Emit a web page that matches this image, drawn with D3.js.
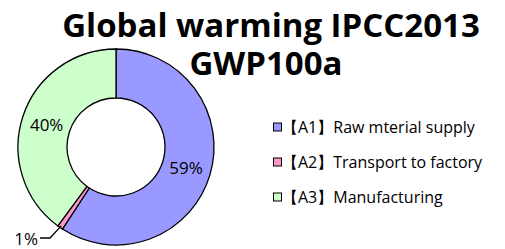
<!DOCTYPE html>
<html>
<head>
<meta charset="utf-8">
<script src="https://cdn.jsdelivr.net/npm/d3@7"></script>
<style>
  body { margin: 0; background: #fff; }
  text { font-family: "Open Sans", "Liberation Sans", sans-serif; fill: #000; }
</style>
</head>
<body>
<svg id="chart"></svg>
<script>
const categories = ["【A1】Raw mterial supply", "【A2】Transport to factory", "【A3】Manufacturing"];
const values = [59.2, 0.9, 39.9];
const labels = ["59%", "1%", "40%"];
const colors = ["#9999ff", "#ff99cc", "#ccffcc"];
const titleLines = ["Global warming IPCC2013", "GWP100a"];

const width = 505, height = 249;
const center = { x: 116, y: 147 };
const outerR = 98, innerR = 49;

const svg = d3.select("#chart")
    .attr("width", width)
    .attr("height", height);

const pie = d3.pie().sort(null).value(d => d)(values);
const arc = d3.arc().innerRadius(innerR).outerRadius(outerR);

const g = svg.append("g")
    .attr("transform", "translate(" + center.x + "," + center.y + ")");

g.selectAll("path")
    .data(pie)
    .join("path")
    .attr("d", arc)
    .attr("fill", (d, i) => colors[i])
    .attr("stroke", "#000")
    .attr("stroke-width", 1.3);

// slice labels
const labelArc = d3.arc().innerRadius(73).outerRadius(73);
g.selectAll("text.pct")
    .data(pie)
    .join("text")
    .attr("class", "pct")
    .attr("text-anchor", "middle")
    .attr("dominant-baseline", "central")
    .attr("font-size", 17)
    .attr("x", d => labelArc.centroid(d)[0])
    .attr("y", d => labelArc.centroid(d)[1])
    .text((d, i) => labels[i])
    .attr("display", (d, i) => i === 1 ? "none" : null);

// small slice: label outside with leader
const small = pie[1];
const edge = d3.arc().innerRadius(outerR - 2).outerRadius(outerR - 2).centroid(small);
g.append("polyline")
    .attr("points", [[-76, 91], [-66, 91], edge].map(p => p.join(",")).join(" "))
    .attr("fill", "none")
    .attr("stroke", "#000")
    .attr("stroke-width", 1.3);
g.append("text")
    .attr("text-anchor", "end")
    .attr("dominant-baseline", "central")
    .attr("font-size", 17)
    .attr("x", -78)
    .attr("y", 91)
    .text(labels[1]);

// title
svg.selectAll("text.title")
    .data(titleLines)
    .join("text")
    .attr("class", "title")
    .attr("text-anchor", "middle")
    .attr("x", (d, i) => i === 0 ? 271 : 266)
    .attr("y", (d, i) => 37 + i * 38)
    .attr("font-size", 33)
    .attr("font-weight", "bold")
    .text(d => d);

// legend
const legend = svg.append("g")
    .attr("transform", "translate(273,127)");
const item = legend.selectAll("g")
    .data(categories)
    .join("g")
    .attr("transform", (d, i) => "translate(0," + i * 35 + ")");
item.append("rect")
    .attr("x", 0.5).attr("y", -4)
    .attr("width", 8).attr("height", 8)
    .attr("fill", (d, i) => colors[i])
    .attr("stroke", "#000")
    .attr("stroke-width", 1);
item.append("text")
    .attr("x", 9)
    .attr("dominant-baseline", "central")
    .attr("font-size", 16)
    .text(d => d);
</script>
</body>
</html>
